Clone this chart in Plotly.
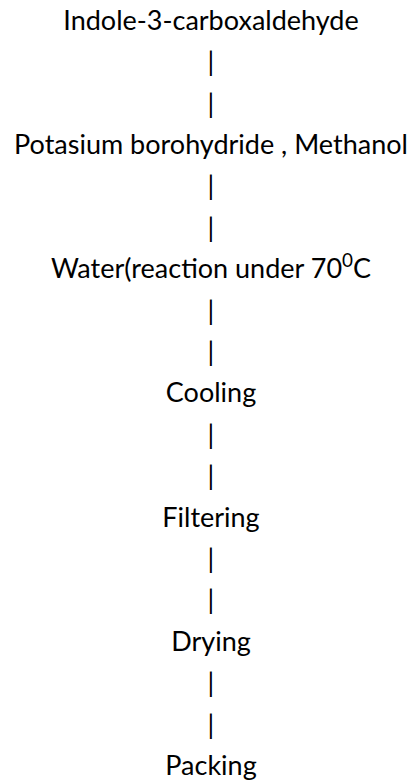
import plotly.graph_objects as go

steps = [
    "Indole-3-carboxaldehyde",
    "Potasium borohydride , Methanol",
    "Water(reaction under 70<sup>0</sup>C",
    "Cooling",
    "Filtering",
    "Drying",
    "Packing",
]
connector = "|"

texts = []
for i, s in enumerate(steps):
    texts.append(s)
    if i < len(steps) - 1:
        texts += [connector, connector]
n = len(texts)
ys = [n - 1 - i for i in range(n)]
xs = [203] * n

fig = go.Figure(go.Scatter(
    x=xs, y=ys, text=texts, mode="text",
    textposition="middle center",
    cliponaxis=False,
    textfont=dict(family="Lato, Carlito, Calibri, sans-serif", size=27, color="#000000"),
    hoverinfo="skip", showlegend=False,
))
step = 41.4
ymax = (n - 1) + 15 / step
ymin = ymax - 782 / step
fig.update_layout(
    width=417, height=782,
    margin=dict(l=0, r=0, t=0, b=0),
    paper_bgcolor="white", plot_bgcolor="white",
    xaxis=dict(range=[0, 417], visible=False, fixedrange=True),
    yaxis=dict(range=[ymin, ymax], visible=False, fixedrange=True),
)
fig.write_html("out.html")
